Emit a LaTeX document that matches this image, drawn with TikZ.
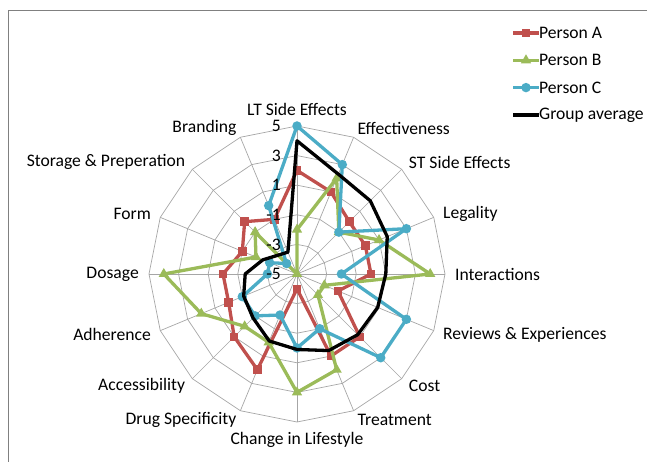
\documentclass[tikz,border=0pt]{standalone}
\usepackage{fontspec}
\setmainfont{Carlito}
\usetikzlibrary{shapes.geometric,calc}
\definecolor{personA}{HTML}{C0504D}
\definecolor{personB}{HTML}{9BBB59}
\definecolor{personC}{HTML}{4BACC6}
\definecolor{gridgray}{HTML}{A6A6A6}
\tikzset{
  gridline/.style={gridgray, line width=0.7pt},
  serie/.style={line width=3.3pt, line join=round},
  markA/.style={rectangle, fill=personA, minimum size=8.5pt, inner sep=0pt},
  markB/.style={regular polygon, regular polygon sides=3, fill=personB, minimum size=12pt, inner sep=0pt},
  markC/.style={circle, fill=personC, minimum size=9.5pt, inner sep=0pt},
  axislabel/.style={font=\fontsize{17.6}{20}\selectfont, inner sep=0pt},
  ticklabel/.style={font=\fontsize{17.6}{20}\selectfont, inner sep=0pt, anchor=east},
}
\begin{document}
\begin{tikzpicture}[x=1pt,y=1pt]
            \useasboundingbox (-297,-188) rectangle (350,274);

            % Frame
            \draw[gray, line width=1pt] (-288,-188) -- (-288,263.5) -- (350,263.5);

            % Grid
            \foreach \i in {1,...,5}
            \draw[gridline] (90:\i*29.6) \foreach \k in {1,...,15} {-- (90-\k*22.5:\i*29.6)} -- cycle;
            \foreach \k in {0,...,15}
            \draw[gridline] (0,0) -- (90-\k*22.5:148);

            % Axis labels
            \foreach \name/\anc [count=\k from 0] in {LT Side Effects/south, Effectiveness/west,
                ST Side Effects/west, Legality/west, Interactions/west, Reviews \& Experiences/west,
                Cost/west, Treatment/west, Change in Lifestyle/north, Drug Specificity/east,
                Accessibility/east, Adherence/east, Dosage/east, Form/east,
                Storage \& Preperation/east, Branding/east}
            \node[axislabel, anchor=\anc] (lab\k) at (90-\k*22.5:158) {\name};

            % Data points
            \foreach \v [count=\k from 0] in {2,1,0,0,0,-2,1,1,-4,2,1,0,0,-1,0,-1}
            \coordinate (A\k) at (90-22.5*\k:{(\v+5)*14.8});
            \foreach \v [count=\k from 0] in {-2,2,-1,1,4,-3,-3,2,3,0,0,2,4,-2,-1,-5}
            \coordinate (B\k) at (90-22.5*\k:{(\v+5)*14.8});
            \foreach \v [count=\k from 0] in {5,3,-1,3,-2,3,3,-1,0,-2,-1,-1,-3,-3,-4,0}
            \coordinate (C\k) at (90-22.5*\k:{(\v+5)*14.8});
            \foreach \v [count=\k from 0] in {4,2.3,2,1.6,1.0,0.9,0.8,0.6,0.1,-0.1,-0.8,-1.1,-1.5,-2.5,-3.2,-3.4}
            \coordinate (G\k) at (90-22.5*\k:{(\v+5)*14.8});

            % Series
            \draw[serie, personA] (A0) \foreach \k in {1,...,15} {-- (A\k)} -- cycle;
            \foreach \k in {0,...,15}
            \node[markA] (mA\k) at (A\k) {};
            \draw[serie, personB] (B0) \foreach \k in {1,...,15} {-- (B\k)} -- cycle;
            \foreach \k in {0,...,15}
            \node[markB] (mB\k) at (B\k) {};
            \draw[serie, personC] (C0) \foreach \k in {1,...,15} {-- (C\k)} -- cycle;
            \foreach \k in {0,...,15}
            \node[markC] (mC\k) at (C\k) {};
            \draw[serie, black] (G0) \foreach \k in {1,...,15} {-- (G\k)} -- cycle;

            % Ticks
            \foreach \t [count=\i from 0] in {-5,-3,-1,1,3,5}
            \node[ticklabel] (tick\i) at (-16,\i*29.6) {\t};

            % Legend
            \foreach \who/\mark/\col [count=\i from 0] in {Person A/markA/personA, Person B/markB/personB,
                Person C/markC/personC, Group average//black} {
              \coordinate (ls\i) at (216,241-\i*27.3);
              \coordinate (le\i) at (242,241-\i*27.3);
              \draw[serie, \col] (ls\i) -- (le\i);
              \node[\mark, draw=none] (lm\i) at ($(ls\i)!0.5!(le\i)$) {};
              \node[axislabel, anchor=west] (lt\i) at (le\i) {\who};
            }
        \end{tikzpicture}
\end{document}
